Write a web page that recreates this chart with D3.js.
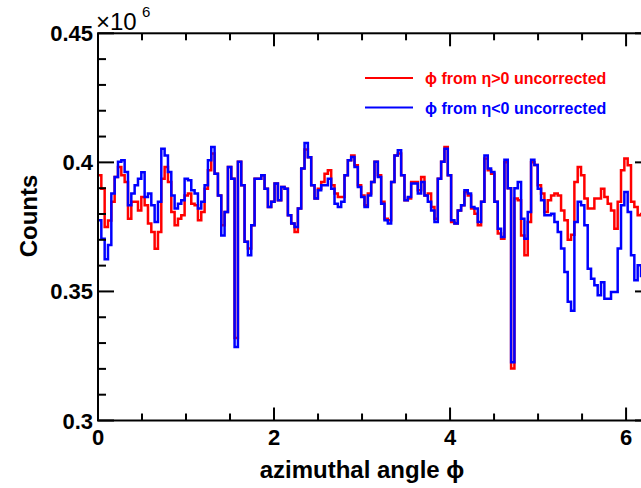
<!DOCTYPE html>
<html>
<head>
<meta charset="utf-8">
<script src="https://cdn.jsdelivr.net/npm/d3@7"></script>
<style>
  body { margin: 0; background: #fff; }
  text { font-family: "Liberation Sans", Arial, Helvetica, sans-serif; }
</style>
</head>
<body>
<script>
// phi histograms, counts in units of 10^6, 166 bins over [0, 2pi]
const phiMax = 2 * Math.PI;

const redCounts = [
  0.3950, 0.3898, 0.3750, 0.3775, 0.3847, 0.3943, 0.3982, 0.3950, 0.3924, 0.3782,
  0.3847, 0.3847, 0.3814, 0.3866, 0.3834, 0.3763, 0.3730, 0.3665, 0.3730, 0.3937,
  0.3982, 0.3924, 0.3808, 0.3756, 0.3782, 0.3795, 0.3872, 0.3879, 0.3840, 0.3834,
  0.3776, 0.3808, 0.3898,
  0.3969, 0.4034, 0.3956, 0.3872, 0.3756, 0.3808, 0.3982, 0.3937, 0.3320, 0.4002,
  0.3911, 0.3692, 0.3666, 0.3756, 0.3937, 0.3937, 0.3950, 0.3898, 0.3827, 0.3847,
  0.3918, 0.3853, 0.3905, 0.3898, 0.3795, 0.3763, 0.3730, 0.3821, 0.3976, 0.4050,
  0.4020, 0.3911, 0.3860,
  0.3898, 0.3924, 0.3956, 0.3969, 0.3911, 0.3879, 0.3866, 0.3866, 0.3950, 0.4008,
  0.4027, 0.3989, 0.3911, 0.3872, 0.3834, 0.3879, 0.3924, 0.4002, 0.3950, 0.3847,
  0.3782, 0.3776, 0.3924, 0.4027, 0.4034, 0.3950, 0.3853, 0.3860, 0.3924, 0.3924,
  0.3892, 0.3943, 0.3872,
  0.3879, 0.3827, 0.3782, 0.3937, 0.4002, 0.4060, 0.3950, 0.3769, 0.3763, 0.3814,
  0.3834, 0.3885, 0.3872, 0.3821, 0.3801, 0.3756, 0.3847, 0.4015, 0.3969, 0.3956,
  0.3847, 0.3724, 0.3704, 0.4000, 0.3900, 0.3201, 0.3860, 0.3853, 0.3717, 0.3640,
  0.3769, 0.4000, 0.3990,
  0.3911, 0.3879, 0.3808, 0.3853, 0.3872, 0.3879, 0.3872, 0.3814, 0.3776, 0.3700,
  0.3720, 0.3924, 0.3982, 0.3950, 0.3860, 0.3821, 0.3821, 0.3860, 0.3860, 0.3898,
  0.3866, 0.3840, 0.3814, 0.3743, 0.3847, 0.3969, 0.4015, 0.3989, 0.3847, 0.3827,
  0.3795, 0.3800, 0.3820, 0.3840
];

const blueCounts = [
  0.3776, 0.3704, 0.3625, 0.3680, 0.3879, 0.3943, 0.4002, 0.4008, 0.3963, 0.3834,
  0.3879, 0.3911, 0.3937, 0.3962, 0.3866, 0.3879, 0.3834, 0.3769, 0.3847, 0.4053,
  0.4027, 0.3963, 0.3872, 0.3821, 0.3840, 0.3853, 0.3937, 0.3931, 0.3892, 0.3879,
  0.3821, 0.3847, 0.3911,
  0.4008, 0.4060, 0.3956, 0.3872, 0.3717, 0.3808, 0.3982, 0.3937, 0.3285, 0.4002,
  0.3911, 0.3692, 0.3640, 0.3756, 0.3937, 0.3937, 0.3950, 0.3898, 0.3827, 0.3847,
  0.3918, 0.3853, 0.3905, 0.3898, 0.3795, 0.3763, 0.3750, 0.3821, 0.3976, 0.4075,
  0.4020, 0.3911, 0.3860,
  0.3892, 0.3911, 0.3911, 0.3937, 0.3898, 0.3840, 0.3827, 0.3847, 0.3950, 0.4008,
  0.4021, 0.3982, 0.3905, 0.3866, 0.3827, 0.3872, 0.3924, 0.4002, 0.3943, 0.3840,
  0.3776, 0.3763, 0.3924, 0.4027, 0.4047, 0.3950, 0.3853, 0.3866, 0.3918, 0.3918,
  0.3879, 0.3924, 0.3872,
  0.3847, 0.3814, 0.3769, 0.3937, 0.4002, 0.4053, 0.3950, 0.3776, 0.3763, 0.3814,
  0.3834, 0.3892, 0.3879, 0.3827, 0.3821, 0.3769, 0.3847, 0.4027, 0.3976, 0.3963,
  0.3847, 0.3743, 0.3711, 0.4010, 0.3900, 0.3226, 0.3900, 0.3924, 0.3782, 0.3704,
  0.3808, 0.4010, 0.3990,
  0.3898, 0.3853, 0.3795, 0.3795, 0.3801, 0.3769, 0.3730, 0.3666, 0.3575, 0.3460,
  0.3425, 0.3769, 0.3847, 0.3834, 0.3756, 0.3588, 0.3549, 0.3524, 0.3485, 0.3536,
  0.3472, 0.3472, 0.3498, 0.3498, 0.3666, 0.3834, 0.3885, 0.3808, 0.3640, 0.3543,
  0.3601, 0.3560, 0.3560, 0.3590
];

const xTickValues = [0, 2, 4, 6];
const yTickValues = [0.3, 0.35, 0.4, 0.45];
const legendLabels = ["\u03D5 from \u03B7>0 uncorrected", "\u03D5 from \u03B7<0 uncorrected"];
const seriesColors = ["#ff0000", "#0000ff"];

const W = 641, H = 488;
const box = { left: 98, right: 651, top: 33.3, bottom: 420.5 };

const svg = d3.select("body").append("svg")
  .attr("width", W)
  .attr("height", H)
  .style("display", "block");

svg.append("rect").attr("width", W).attr("height", H).attr("fill", "#fff");

const x = d3.scaleLinear().domain([0, phiMax]).range([box.left, box.right]);
const y = d3.scaleLinear().domain([0.3, 0.45]).range([box.bottom, box.top]);

svg.append("clipPath").attr("id", "plotclip")
  .append("rect")
  .attr("x", box.left).attr("y", box.top)
  .attr("width", box.right - box.left).attr("height", box.bottom - box.top);

// histogram outlines (step lines through bin edges)
function stepPoints(counts) {
  const w = phiMax / counts.length;
  const pts = counts.map((v, i) => [i * w, v]);
  pts.push([counts.length * w, counts[counts.length - 1]]);
  return pts;
}

const line = d3.line()
  .x(d => x(d[0]))
  .y(d => y(d[1]))
  .curve(d3.curveStepAfter);

const plot = svg.append("g").attr("clip-path", "url(#plotclip)");

[redCounts, blueCounts].forEach((counts, k) => {
  plot.append("path")
    .attr("d", line(stepPoints(counts)))
    .attr("fill", "none")
    .attr("stroke", seriesColors[k])
    .attr("stroke-width", 2.5)
    .attr("stroke-linejoin", "miter");
});

// frame
svg.append("rect")
  .attr("x", box.left).attr("y", box.top)
  .attr("width", box.right - box.left).attr("height", box.bottom - box.top)
  .attr("fill", "none")
  .attr("stroke", "#000")
  .attr("stroke-width", 2);

// ticks on all four sides
const ticks = svg.append("g").attr("stroke", "#000").attr("stroke-width", 2);

const xMinor = d3.range(0, 6.01, 0.5);
xMinor.forEach(v => {
  const major = xTickValues.includes(v);
  const len = major ? 13 : 7;
  ticks.append("line").attr("x1", x(v)).attr("x2", x(v))
    .attr("y1", box.bottom).attr("y2", box.bottom - len);
  ticks.append("line").attr("x1", x(v)).attr("x2", x(v))
    .attr("y1", box.top).attr("y2", box.top + len);
});

const yMinor = d3.range(30, 46).map(v => v / 100);
yMinor.forEach(v => {
  const major = yTickValues.some(t => Math.abs(t - v) < 1e-9);
  const len = major ? 16 : 8;
  ticks.append("line").attr("x1", box.left).attr("x2", box.left + len)
    .attr("y1", y(v)).attr("y2", y(v));
  ticks.append("line").attr("x1", box.right).attr("x2", box.right - len)
    .attr("y1", y(v)).attr("y2", y(v));
});

// tick labels
svg.append("g").selectAll("text")
  .data(xTickValues)
  .join("text")
  .attr("x", d => x(d))
  .attr("y", 445)
  .attr("text-anchor", "middle")
  .attr("font-size", 22)
  .attr("font-weight", "bold")
  .text(d => d);

svg.append("g").selectAll("text")
  .data(yTickValues)
  .join("text")
  .attr("x", 93)
  .attr("y", d => y(d) + 8)
  .attr("text-anchor", "end")
  .attr("font-size", 22)
  .attr("font-weight", "bold")
  .text(d => String(d));

// exponent
svg.append("text")
  .attr("x", 96).attr("y", 30)
  .attr("font-size", 24)
  .text("\u00D710");
svg.append("text")
  .attr("x", 142).attr("y", 17)
  .attr("font-size", 15)
  .text("6");

// axis titles
svg.append("text")
  .attr("x", 362).attr("y", 478)
  .attr("text-anchor", "middle")
  .attr("font-size", 24)
  .attr("font-weight", "bold")
  .text("azimuthal angle \u03D5");

svg.append("text")
  .attr("transform", "translate(37,216) rotate(-90)")
  .attr("text-anchor", "middle")
  .attr("font-size", 24)
  .attr("font-weight", "bold")
  .text("Counts");

// legend
const legend = svg.append("g");
legendLabels.forEach((label, k) => {
  const ly = 78 + k * 29.5;
  legend.append("line")
    .attr("x1", 365).attr("x2", 413)
    .attr("y1", ly).attr("y2", ly)
    .attr("stroke", seriesColors[k])
    .attr("stroke-width", 2);
  legend.append("text")
    .attr("x", 425).attr("y", ly + 6)
    .attr("font-size", 16)
    .attr("font-weight", "bold")
    .attr("fill", seriesColors[k])
    .text(label);
});
</script>
</body>
</html>
